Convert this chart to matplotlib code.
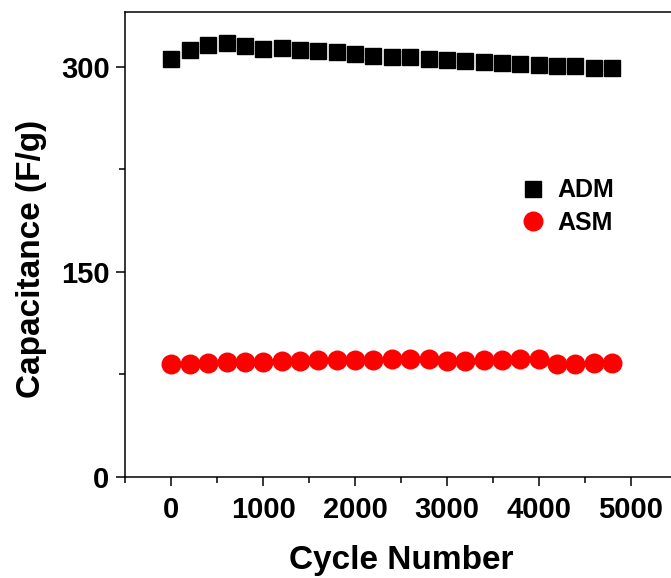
import matplotlib
matplotlib.use("Agg")
import matplotlib.pyplot as plt
from matplotlib.ticker import MultipleLocator

plt.rcParams['font.family'] = ['Liberation Sans', 'DejaVu Sans']
plt.rcParams['font.weight'] = 'bold'

cycles = list(range(0, 5000, 200))
adm = [305.9, 312.2, 315.8, 317.1, 315.1, 312.9, 313.4, 312.2, 311.7, 310.7,
       309.2, 308.0, 307.3, 306.8, 305.6, 304.6, 304.4, 303.2, 302.7, 302.2,
       301.2, 300.7, 300.2, 299.3, 298.8]
asm = [82.6, 82.9, 83.4, 83.9, 83.9, 84.4, 84.9, 84.9, 85.4, 85.4,
       85.9, 85.9, 86.1, 86.6, 86.1, 85.1, 85.1, 85.6, 85.6, 86.1,
       86.6, 82.7, 82.9, 83.4, 83.4]

fig = plt.figure(figsize=(6.71, 5.78), dpi=100)
ax = fig.add_axes([125.5 / 671, 101 / 578, 551 / 671, 465 / 578])

ax.plot(cycles, adm, 's', color='black', markersize=12, label='ADM', linestyle='none')
ax.plot(cycles, asm, 'o', color='#ff0000', markersize=13.4, label='ASM', linestyle='none')

ax.set_xlim(-500, 5500)
ax.set_ylim(0, 340)
ax.xaxis.set_major_locator(MultipleLocator(1000))
ax.xaxis.set_minor_locator(MultipleLocator(500))
ax.yaxis.set_major_locator(MultipleLocator(150))
ax.yaxis.set_minor_locator(MultipleLocator(75))
ax.tick_params(which='major', direction='out', length=6.5, width=1.1, labelsize=21)
ax.tick_params(which='minor', direction='out', length=4, width=1.1)
ax.tick_params(axis='y', pad=5)
ax.tick_params(axis='x', pad=7)
for s in ax.spines.values():
    s.set_linewidth(1.1)

ax.set_xlabel('Cycle Number', fontsize=24, fontweight='bold', labelpad=15)
ax.set_ylabel('Capacitance (F/g)', fontsize=24, fontweight='bold')
ax.yaxis.set_label_coords(-0.143, 0.47)

ax.legend(loc='center left', bbox_to_anchor=(0.6706, 0.5817), frameon=False,
          fontsize=18, handletextpad=0.4, labelspacing=0.33, handlelength=1.2)

fig.savefig('out.png', dpi=100)
